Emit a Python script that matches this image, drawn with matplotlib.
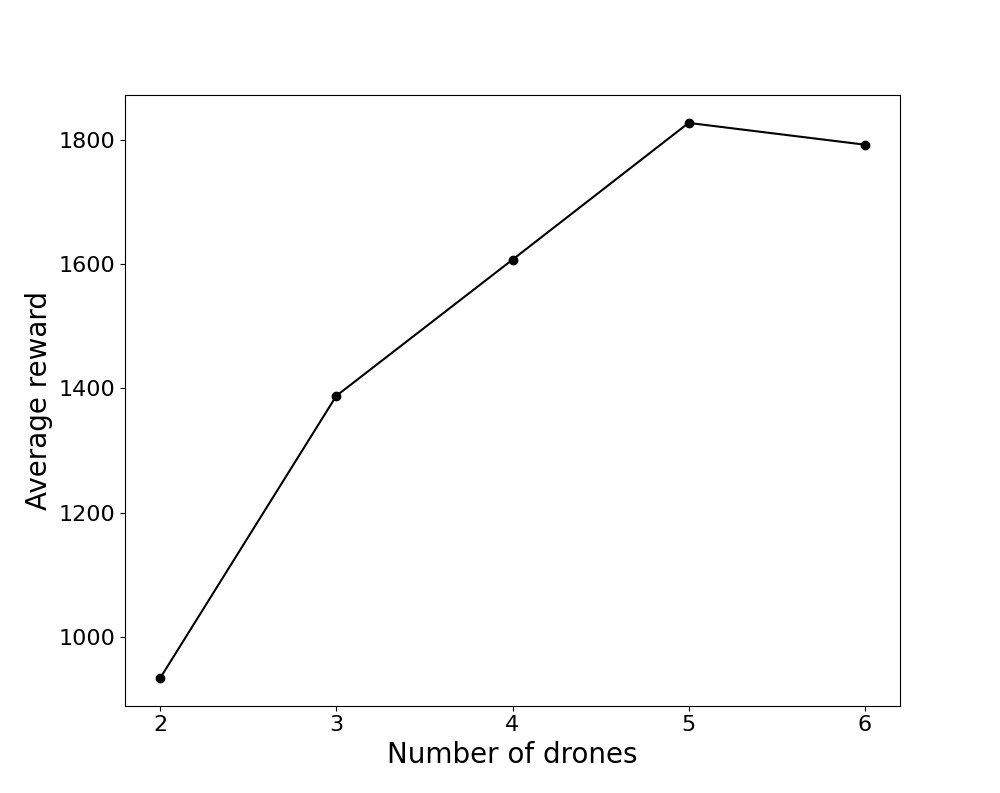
import matplotlib
matplotlib.use("Agg")
import matplotlib.pyplot as plt

# values
drones = [2, 3, 4, 5, 6]
avg_reward = [934, 1388, 1607, 1827, 1792]

fig, ax = plt.subplots(figsize=(10, 7.93), dpi=100)
ax.plot(drones, avg_reward, color='black', marker='o')

ax.set_xticks(drones)
ax.set_xlabel('Number of drones', fontsize=20)
ax.set_ylabel('Average reward', fontsize=20)
ax.tick_params(axis='both', labelsize=16)

fig.savefig('out.png', dpi=100)
